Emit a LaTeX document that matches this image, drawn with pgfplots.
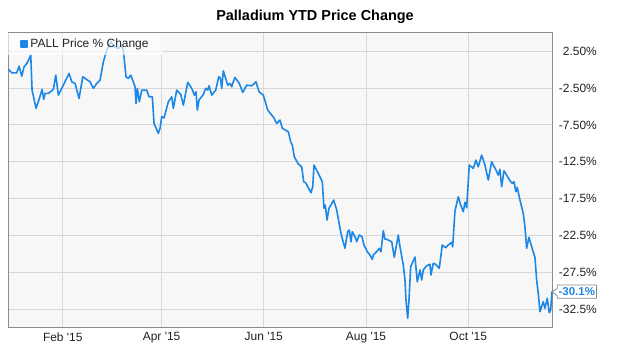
\documentclass[border=0pt]{standalone}
\usepackage{fontspec}
\setmainfont{Liberation Sans}
\usepackage{pgfplots}
\pgfplotsset{compat=1.18}
\usetikzlibrary{shapes.callouts}
\definecolor{pallblue}{RGB}{28,135,229}
\definecolor{gridgray}{RGB}{216,216,216}
\definecolor{bordergray}{RGB}{140,140,140}
\definecolor{bggray}{RGB}{247,247,247}
\definecolor{txt}{RGB}{34,34,34}
\begin{document}
\begin{tikzpicture}
\useasboundingbox (-8.3bp,-30bp) rectangle (622.7bp,327bp);
\begin{axis}[
  scale only axis, width=544.2bp, height=294.3bp,
  xmin=-1.5, xmax=323.3, ymin=-34.9, ymax=5,
  axis background/.style={fill=bggray},
  axis line style={bordergray, line width=0.8bp},
  grid=major, major grid style={gridgray, line width=0.9bp},
  tick style={draw=none},
  xtick={31,90,151,212,273},
  xticklabels={Feb \textquotesingle15, Apr \textquotesingle15, Jun \textquotesingle15, Aug \textquotesingle15, Oct \textquotesingle15},
  ytick={-32.5,-27.5,-22.5,-17.5,-12.5,-7.5,-2.5,2.5},
  yticklabels={-32.5\%,-27.5\%,-22.5\%,-17.5\%,-12.5\%,-7.50\%,-2.50\%,2.50\%},
  yticklabel pos=right,
  yticklabel style={anchor=east, inner sep=0pt, xshift=44.5bp},
  xticklabel style={yshift=-2bp},
  tick label style={font=\fontsize{12}{14}\selectfont, text=txt},
  clip=false,
  legend style={at={(0,1)}, anchor=north west, draw=none, fill=white, fill opacity=0.65, text opacity=1,
    inner xsep=12bp, inner ysep=4bp, font=\fontsize{12}{14}\selectfont, text=txt},
  legend cell align=left,
]
\addplot[pallblue, line width=1.6bp, line join=round,
  legend image code/.code={\fill[pallblue, fill opacity=1] (0bp,-3.2bp) rectangle (6.4bp,3.2bp);}]
coordinates {
(-1.46,0.02)(0.57,-0.44)(3.56,-0.44)(4.93,0.47)(6.54,-0.89)(7.91,0.37)(9.52,0.83)(11.07,1.51)
(11.91,1.96)(12.68,-2.78)(15.07,-5.26)(17.04,-3.91)(18.65,-2.69)(19.67,-4.04)(20.44,-3.23)(22.41,-3.23)
(25.39,-2.69)(26.83,-0.75)(28.38,-3.46)(30.41,-2.55)(34.76,-0.52)(36.37,-1.66)(38.34,-1.88)(40.73,-3.91)
(42.94,-0.98)(47.29,-1.66)(49.26,-2.55)(51.29,-1.88)(53.26,-1.43)(55.23,1.05)(57.26,2.64)(59.82,3.76)
(61.91,3.04)(64.18,2.87)(65.79,3.31)(67.16,2.64)(68.77,-0.98)(70.15,-1.20)(71.58,-0.75)(73.13,-1.66)
(74.14,-2.34)(74.74,-4.59)(75.52,-2.55)(76.71,-4.37)(78.14,-2.78)(81.13,-2.78)(82.50,-3.69)(84.47,-3.69)
(85.48,-7.30)(88.05,-8.65)(89.06,-7.97)(90.08,-6.40)(91.45,-6.54)(94.02,-4.37)(96.04,-3.69)(97.00,-5.26)
(99.03,-2.78)(101.41,-3.37)(102.97,-4.82)(105.59,-1.74)(107.98,-2.55)(109.53,-3.46)(110.54,-3.01)(111.32,-5.49)
(112.33,-4.14)(114.90,-3.37)(116.33,-2.55)(117.52,-2.78)(118.30,-2.20)(119.91,-3.46)(122.30,-2.78)(124.09,-0.98)
(125.04,-1.12)(125.88,-2.55)(126.83,-0.17)(129.46,-2.11)(130.83,-1.88)(131.85,-2.34)(132.44,-1.88)(133.81,-1.06)
(136.38,-1.88)(138.41,-3.10)(140.80,-2.11)(143.78,-2.20)(146.35,-1.66)(148.14,-3.01)(150.70,-3.46)(153.33,-5.49)
(155.71,-6.17)(156.67,-6.40)(158.70,-7.30)(160.67,-6.85)(162.04,-7.97)(165.62,-8.43)(167.05,-9.79)(168.01,-10.24)
(169.20,-11.82)(171.59,-12.81)(173.61,-13.18)(174.81,-15.21)(176.00,-15.35)(179.16,-16.70)(180.18,-15.89)(180.95,-12.95)
(183.52,-14.07)(185.91,-15.21)(186.92,-18.81)(187.70,-18.37)(188.71,-20.40)(189.90,-18.81)(192.71,-17.69)(194.50,-19.04)
(196.89,-22.03)(198.08,-23.11)(199.45,-24.23)(201.06,-21.98)(202.02,-21.75)(203.03,-23.34)(203.81,-21.98)(205.42,-22.66)
(206.43,-23.34)(207.98,-22.43)(209.59,-22.66)(210.79,-23.79)(212.76,-24.69)(213.95,-25.01)(215.74,-25.72)(216.34,-25.14)
(218.37,-24.69)(219.92,-24.23)(220.93,-24.69)(222.31,-21.85)(223.32,-23.01)(224.33,-23.01)(227.32,-23.34)(228.87,-25.45)
(231.25,-22.43)(232.27,-24.02)(234.24,-26.50)(235.25,-28.53)(235.85,-31.24)(236.86,-33.72)(237.64,-31.24)(238.65,-26.73)
(241.22,-25.41)(242.59,-28.76)(244.20,-27.17)(245.22,-28.53)(246.17,-27.17)(248.20,-26.59)(250.17,-26.40)(250.77,-27.85)
(252.14,-26.26)(253.57,-26.40)(255.72,-26.94)(257.51,-23.79)(259.54,-24.15)(261.09,-23.79)(263.12,-23.42)(263.72,-24.02)
(265.09,-19.18)(267.06,-17.24)(268.49,-18.37)(270.04,-19.27)(271.06,-18.00)(272.07,-18.73)(273.62,-12.95)(276.01,-13.39)
(277.62,-12.27)(278.99,-13.18)(281.02,-11.59)(282.99,-12.95)(284.96,-14.98)(286.99,-12.50)(289.55,-13.62)(290.93,-14.30)
(291.94,-13.53)(292.95,-15.89)(294.33,-13.72)(295.94,-14.30)(297.91,-15.07)(299.28,-15.43)(300.29,-15.21)(301.49,-16.56)
(302.26,-15.97)(303.87,-17.69)(305.84,-19.49)(306.86,-21.31)(307.87,-24.23)(309.24,-22.74)(311.45,-24.46)(312.82,-25.45)
(313.84,-28.53)(314.79,-30.33)(315.81,-32.82)(317.78,-31.47)(318.79,-32.36)(320.17,-31.01)(321.36,-32.96)(322.19,-32.59)
(322.97,-30.10)
};
\addlegendentry{PALL Price \% Change}
\coordinate (endpt) at (axis cs:322.97,-30.1);
\node[font=\bfseries\fontsize{14.5}{16}\selectfont, text=black] at (rel axis cs:0.5636,1) [yshift=15.7bp] {Palladium YTD Price Change};
\node[rectangle callout, callout absolute pointer=(endpt), draw=bordergray, fill=white, line width=0.8bp,
  anchor=west, inner xsep=1.5bp, inner ysep=2.5bp, text=pallblue, font=\bfseries\fontsize{11.5}{13}\selectfont]
  at ([xshift=4.8bp]endpt) {-30.1\%};
\end{axis}
\end{tikzpicture}
\end{document}
